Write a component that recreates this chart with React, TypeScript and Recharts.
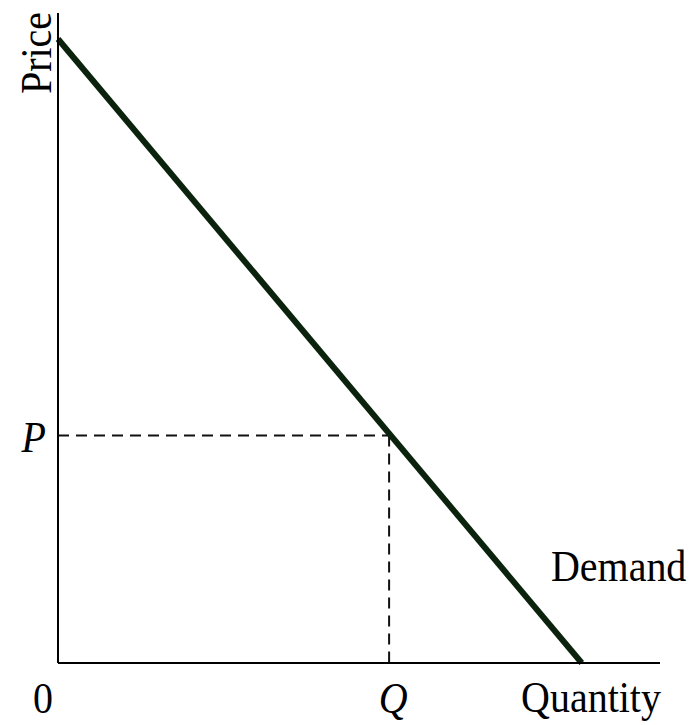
import React from 'react'
import {
  ComposedChart,
  Line,
  XAxis,
  YAxis,
  ReferenceLine,
  ReferenceDot,
  Label
} from 'recharts'

// demand curve end points (quantity, price)
const demandQuantity = [0, 87]
const demandPrice = [96, 0]

// equilibrium read-off
const priceLevel = 35
const quantityLevel = 55

// where the "Demand" caption sits along the curve
const demandLabelPrice = 15

const axisLabels = {
  x: 'Quantity',
  y: 'Price',
  origin: '0',
  p: 'P',
  q: 'Q',
  curve: 'Demand'
}

const data = demandQuantity.map((q, i) => ({ q, price: demandPrice[i] }))

const labelQ =
  demandQuantity[1] * (1 - demandLabelPrice / demandPrice[0])

const font = '"Liberation Serif", "Times New Roman", serif'
const fontSize = 40

// the source glyphs are a bit taller than plain Times
function Txt({ x, y, anchor = 'middle', italic = false, rotate = 0, children }: any) {
  return (
    <text
      x={0}
      y={0}
      transform={`translate(${x}, ${y}) rotate(${rotate}) scale(1, 1.1)`}
      textAnchor={anchor}
      fontFamily={font}
      fontSize={fontSize}
      fontStyle={italic ? 'italic' : 'normal'}
      fill="#000"
    >
      {children}
    </text>
  )
}

export default function App() {
  return (
    <div style={{ position: 'absolute', left: 0, top: 0, width: 692, height: 725, background: '#fff' }}>
      <ComposedChart
        width={692}
        height={725}
        data={data}
        margin={{ top: 13, right: 32, bottom: 0, left: 0 }}
      >
        <XAxis
          dataKey="q"
          type="number"
          domain={[0, 100]}
          ticks={[quantityLevel]}
          tickLine={false}
          tickSize={0}
          height={62}
          axisLine={{ stroke: '#000', strokeWidth: 2 }}
          tick={({ x, y }: any) => (
            <Txt x={x + 4} y={y + 48} italic>
              {axisLabels.q}
            </Txt>
          )}
        >
          <Label
            content={({ viewBox }: any) => (
              <g>
                <Txt x={viewBox.x - 15} y={viewBox.y + 50}>
                  {axisLabels.origin}
                </Txt>
                <Txt x={viewBox.x + viewBox.width - 69} y={viewBox.y + 49}>
                  {axisLabels.x}
                </Txt>
              </g>
            )}
          />
        </XAxis>
        <YAxis
          type="number"
          domain={[0, 100]}
          ticks={[priceLevel]}
          tickLine={false}
          tickSize={0}
          width={58}
          axisLine={{ stroke: '#000', strokeWidth: 2 }}
          tick={({ x, y }: any) => (
            <Txt x={x - 10} y={y + 16} anchor="end" italic>
              {axisLabels.p}
            </Txt>
          )}
        >
          <Label
            content={({ viewBox }: any) => (
              <Txt x={viewBox.x + 51} y={viewBox.y + 40} rotate={-90}>
                {axisLabels.y}
              </Txt>
            )}
          />
        </YAxis>
        <ReferenceLine
          segment={[{ x: 0, y: priceLevel }, { x: quantityLevel, y: priceLevel }]}
          stroke="#111"
          strokeWidth={2}
          strokeDasharray="11 7"
        />
        <ReferenceLine
          segment={[{ x: quantityLevel, y: priceLevel }, { x: quantityLevel, y: 0 }]}
          stroke="#111"
          strokeWidth={2}
          strokeDasharray="11 7"
        />
        <Line
          dataKey="price"
          type="linear"
          stroke="#0b220d"
          strokeWidth={6}
          dot={false}
          activeDot={false}
          isAnimationActive={false}
        />
        <ReferenceDot
          x={labelQ}
          y={demandLabelPrice}
          r={0}
          fill="none"
          stroke="none"
        >
          <Label
            content={({ viewBox }: any) => (
              <Txt x={viewBox.x + 51} y={viewBox.y + 15} anchor="start">
                {axisLabels.curve}
              </Txt>
            )}
          />
        </ReferenceDot>
      </ComposedChart>
    </div>
  )
}
